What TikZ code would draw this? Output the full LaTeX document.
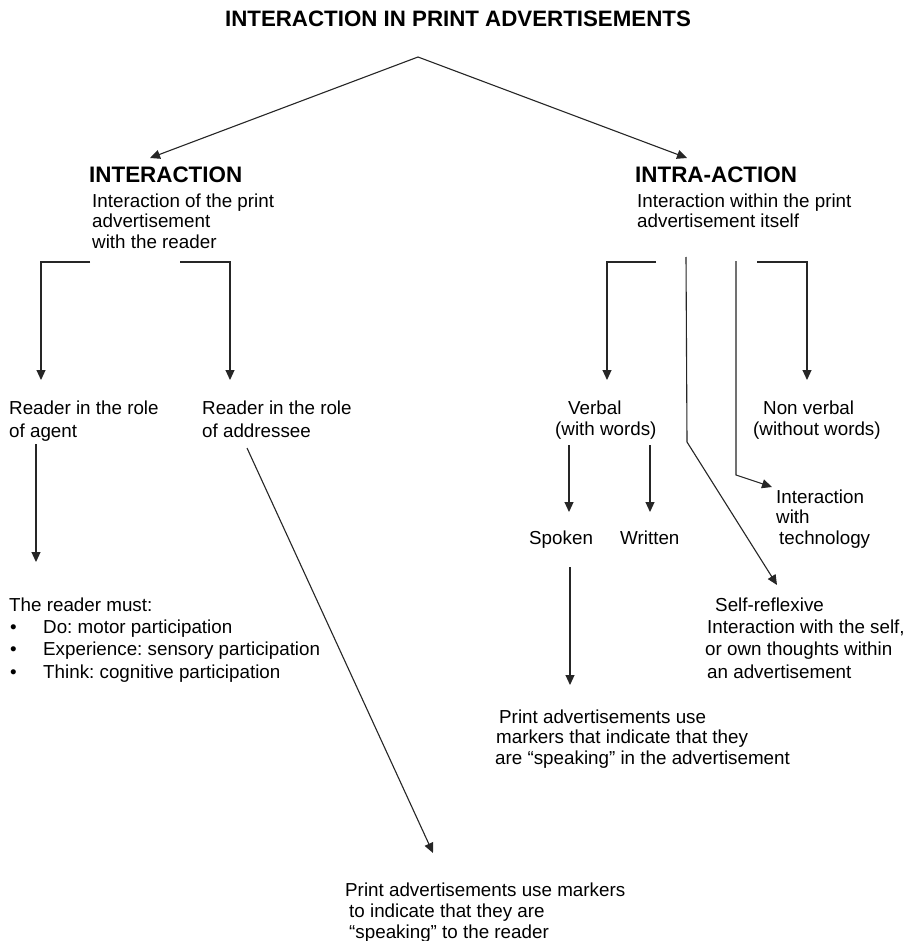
\documentclass[tikz,border=0pt]{standalone}
\usepackage{fontspec}
\setmainfont{Liberation Sans}
\usetikzlibrary{arrows.meta}
\frenchspacing
\begin{document}
\begin{tikzpicture}[x=1pt,y=-1pt,
  conn/.style={draw=black!85, line width=1.1pt},
  arr/.style={conn, -{Triangle[length=10pt,width=9pt]}},
  body/.style={anchor=north west, inner sep=0pt, align=left, font=\fontsize{18.8pt}{#1}\selectfont},
  body/.default=22pt,
  head/.style={anchor=base west, inner sep=0pt, font=\bfseries\fontsize{22.4pt}{26pt}\selectfont}]
\useasboundingbox[fill=white] (0,0) rectangle (907,941);

% title and first level
\node[anchor=base, inner sep=0pt, font=\bfseries\fontsize{22.3pt}{26pt}\selectfont] (title) at (458,27) {INTERACTION IN PRINT ADVERTISEMENTS};
\coordinate (apex) at (418,57);
\coordinate (tipL) at (150,158);
\coordinate (tipR) at (687,158);
\draw[arr] (apex) -- (tipL);
\draw[arr] (apex) -- (tipR);

\node[head] (inter) at (89,183) {INTERACTION};
\node[head] (intra) at (635,183) {INTRA-ACTION};
\node[body=20.5pt] (intersub) at (92,193.3) {Interaction of the print\\advertisement\\with the reader};
\node[body=20pt] (intrasub) at (637,193.3) {Interaction within the print\\advertisement itself};

% left branch
\coordinate (lb1) at (90,262);   \coordinate (lb1t) at (41,380);
\coordinate (lb2) at (180,262);  \coordinate (lb2t) at (230,380);
\draw[arr] (lb1) -| (lb1t);
\draw[arr] (lb2) -| (lb2t);

\node[body=23pt] (agent) at (9,400.3) {Reader in the role\\of agent};
\node[body=23pt] (addressee) at (202,400.3) {Reader in the role\\of addressee};

\coordinate (ag1) at (36,444); \coordinate (ag2) at (36,562);
\draw[arr] (ag1) -- (ag2);
\node[body=22.3pt] (must) at (9,597.3) {The reader must:\\
\makebox[34pt][l]{\hspace{1pt}\textbullet}Do: motor participation\\
\makebox[34pt][l]{\hspace{1pt}\textbullet}Experience: sensory participation\\
\makebox[34pt][l]{\hspace{1pt}\textbullet}Think: cognitive participation};

\coordinate (ad1) at (247,448); \coordinate (ad2) at (433,853);
\draw[arr] (ad1) -- (ad2);
\node[body=21pt] (toreader) at (345,882.3) {Print advertisements use markers\\\hspace*{4pt}to indicate that they are\\\hspace*{4pt}“speaking” to the reader};

% right branch
\coordinate (rb1) at (656,262);  \coordinate (rb1t) at (607,380);
\coordinate (rb4) at (757,262);  \coordinate (rb4t) at (807,380);
\draw[arr] (rb1) -| (rb1t);
\draw[arr] (rb4) -| (rb4t);
\coordinate (rb2) at (686,257); \coordinate (rb2b) at (687,442); \coordinate (rb2t) at (777,585);
\draw[arr] (rb2) -- (rb2b) -- (rb2t);
\coordinate (rb3) at (736,261); \coordinate (rb3b) at (736,475); \coordinate (rb3t) at (772,487);
\draw[arr] (rb3) -- (rb3b) -- (rb3t);

\node[body=21pt] (verbal) at (555,400.3) {\hspace*{13pt}Verbal\\(with words)};
\node[body=21pt] (nonverbal) at (753,400.3) {\hspace*{10pt}Non verbal\\(without words)};

\coordinate (v1) at (569,445); \coordinate (v1t) at (569,512);
\coordinate (v2) at (650,445); \coordinate (v2t) at (650,512);
\draw[arr] (v1) -- (v1t);
\draw[arr] (v2) -- (v2t);
\node[body] (spoken) at (529,530.3) {Spoken};
\node[body] (written) at (620,530.3) {Written};

\node[body=20.5pt] (tech) at (776,489.3) {Interaction\\with\\\hspace*{3pt}technology};
\node[body=22.3pt] (self) at (705,597.3) {\hspace*{10pt}Self-reflexive\\\hspace*{2pt}Interaction with the self,\\or own thoughts within\\\hspace*{2pt}an advertisement};

\coordinate (s1) at (570,567); \coordinate (s1t) at (570,685);
\draw[arr] (s1) -- (s1t);
\node[body=20.5pt] (inad) at (495,709.3) {\hspace*{4pt}Print advertisements use\\\hspace*{1pt}markers that indicate that they\\are “speaking” in the advertisement};
\end{tikzpicture}
\end{document}
